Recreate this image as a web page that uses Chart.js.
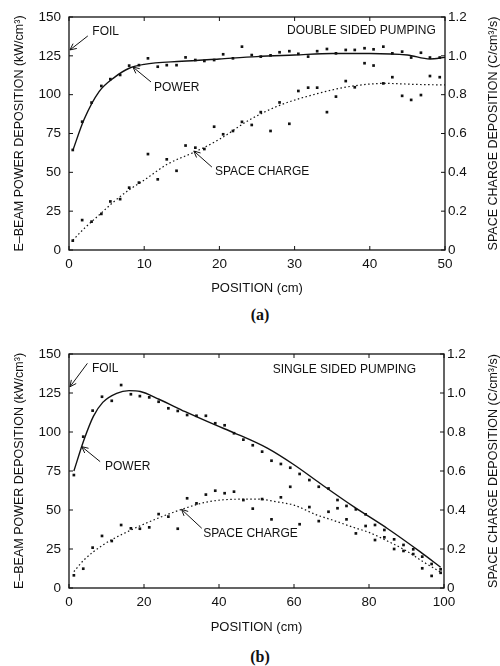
<!DOCTYPE html>
<html>
<head>
<meta charset="utf-8">
<script src="https://cdn.jsdelivr.net/npm/chart.js@4.4.0/dist/chart.umd.min.js"></script>
<style>
  html, body { margin: 0; padding: 0; background: #fff; width: 500px; height: 666px; overflow: hidden; }
  .box { position: absolute; left: 0; width: 505px; }
  #boxA { top: 0; height: 300px; }
  #boxB { top: 330px; height: 308px; }
  .tag { position: absolute; font: bold 16px "Liberation Serif", "Times New Roman", serif; color: #111; transform: translate(-50%, -50%); }
</style>
</head>
<body>
<div class="box" id="boxA"><canvas id="chartA" width="505" height="300"></canvas></div>
<div class="box" id="boxB"><canvas id="chartB" width="505" height="308"></canvas></div>
<div class="tag" style="left:260px; top:315px">(a)</div>
<div class="tag" style="left:260px; top:657px">(b)</div>
<script>
// (a) double sided pumping : measured points (cm, kW/cm3, C/cm3/s)
const posA = [0.5, 1.75, 3.0, 4.3, 5.5, 6.8, 8.0, 9.3, 10.5, 11.8,
  13.0, 14.3, 15.5, 16.8, 18.0, 19.3, 20.5, 21.8, 23.0, 24.3,
  25.5, 26.8, 28.0, 29.3, 30.5, 31.8, 33.0, 34.3, 35.5, 36.8,
  38.0, 39.3, 40.5, 41.8, 43.0, 44.3, 45.5, 46.8, 48.0, 49.3];
const powerA = [64.4, 82.6, 94.9, 105.6, 110, 112.7, 118.7, 119, 123.4, 118,
  119, 119, 124, 122.3, 121.7, 122.3, 126, 123.4, 130.9, 125.5,
  124.5, 125.3, 127.3, 128, 126.3, 124.5, 128, 129.4, 126.6, 128.8,
  128.8, 129.9, 129.2, 130.9, 126.6, 127.7, 123.9, 127, 123.9, 123.9];
const chargeA = [0.048, 0.154, 0.146, 0.186, 0.25, 0.262, 0.321, 0.347, 0.494, 0.364,
  0.467, 0.408, 0.538, 0.527, 0.52, 0.635, 0.596, 0.613, 0.66, 0.644,
  0.71, 0.613, 0.76, 0.65, 0.819, 0.836, 0.836, 0.71, 0.79, 0.87,
  0.838, 0.962, 0.95, 0.858, 0.89, 0.794, 0.773, 0.798, 0.896, 0.89];
// (a) fitted curves
const powerFitPosA = [0.5, 2, 4, 6, 8, 10, 15, 20, 25, 30, 35, 40, 45, 48, 50];
const powerFitA = [64, 84, 102, 111, 117, 119.5, 121.5, 123, 124.5, 125.5, 126.5, 126.5, 125.5, 123, 124];
const chargeFitPosA = [0.5, 2, 4, 6, 8, 10, 13, 17, 20, 24, 28, 33, 37, 42, 46, 50];
const chargeFitA = [0.05, 0.11, 0.18, 0.25, 0.31, 0.36, 0.44, 0.51, 0.57, 0.67, 0.745, 0.805, 0.84, 0.858, 0.853, 0.85];

// (b) single sided pumping : measured points
const posB = [1.3, 3.8, 6.3, 8.8, 11.4, 13.9, 16.5, 18.9, 21.4, 23.9,
  26.5, 29, 31.5, 34, 36.5, 39, 41.5, 44, 46.5, 49,
  51.5, 54, 56.5, 59, 61.5, 64.1, 66.6, 69.2, 71.6, 74,
  76.5, 79.1, 81.6, 84.1, 86.7, 89.2, 91.8, 94.2, 96.7, 99.1];
const powerB = [72.4, 97, 113.7, 122.6, 120, 130.1, 124.2, 123, 122.2, 119.4,
  115.2, 113.5, 110.9, 110.4, 110.4, 105.6, 104.3, 99.2, 95.1, 91.5,
  87.4, 81.6, 79.5, 77.1, 73.1, 69.2, 64.9, 63.8, 56.4, 52.6,
  50.4, 47.2, 40.4, 37.2, 31.2, 27.6, 24.8, 20.1, 15.4, 12];
const chargeB = [0.065, 0.099, 0.207, 0.267, 0.241, 0.323, 0.306, 0.304, 0.311, 0.379,
  0.366, 0.304, 0.46, 0.434, 0.479, 0.499, 0.486, 0.494, 0.451, 0.407,
  0.456, 0.352, 0.465, 0.519, 0.327, 0.415, 0.343, 0.391, 0.409, 0.352,
  0.28, 0.318, 0.246, 0.26, 0.2, 0.19, 0.174, 0.101, 0.062, 0.078];
// (b) fitted curves
const powerFitPosB = [1.3, 4, 6.5, 9, 12.7, 16, 19, 24, 31, 39, 44, 53, 60, 67, 76, 85, 93.6, 99.1];
const powerFitB = [75, 95, 110, 119, 124.8, 126.5, 126, 121, 113, 104.5, 99.5, 89.5, 79, 67, 52, 38, 23.3, 13.3];
const chargeFitPosB = [1.3, 4, 9, 16.5, 24, 30, 37, 44, 50, 56, 60, 66, 70, 76, 80, 85, 90, 94, 99.2];
const chargeFitB = [0.084, 0.144, 0.22, 0.297, 0.36, 0.403, 0.442, 0.455, 0.456, 0.44, 0.425, 0.375, 0.35, 0.31, 0.285, 0.24, 0.19, 0.14, 0.08];

const INK = '#111';
const FONT = '"Liberation Sans", Arial, sans-serif';

function pts(xs, ys) {
  return xs.map((x, i) => ({ x: x, y: ys[i] }));
}

// frame, inward ticks, right title and the hand labels of the figure
const figurePlugin = {
  id: 'figure',
  afterDraw(chart, args, opts) {
    const { ctx, chartArea: a, scales } = chart;
    const line = (x1, y1, x2, y2) => { ctx.beginPath(); ctx.moveTo(x1, y1); ctx.lineTo(x2, y2); ctx.stroke(); };
    ctx.save();
    ctx.strokeStyle = INK;
    ctx.fillStyle = INK;
    ctx.lineWidth = 1.3;
    ctx.strokeRect(a.left, a.top, a.right - a.left, a.bottom - a.top);
    ctx.lineWidth = 1;
    scales.x.ticks.forEach(t => {
      const p = scales.x.getPixelForValue(t.value);
      line(p, a.bottom, p, a.bottom - 4);
      line(p, a.top, p, a.top + 4);
    });
    scales.y.ticks.forEach(t => {
      const p = scales.y.getPixelForValue(t.value);
      line(a.left, p, a.left + 4, p);
    });
    scales.y1.ticks.forEach(t => {
      const p = scales.y1.getPixelForValue(t.value);
      line(a.right - 4, p, a.right, p);
    });

    // right axis title, reading upward like the left one
    ctx.font = '12.5px ' + FONT;
    ctx.textAlign = 'center';
    ctx.textBaseline = 'middle';
    ctx.save();
    ctx.translate(494, (a.top + a.bottom) / 2);
    ctx.rotate(-Math.PI / 2);
    ctx.fillText('SPACE CHARGE DEPOSITION (C/cm³/s)', 0, 0);
    ctx.restore();

    const px = v => scales.x.getPixelForValue(v);
    const py = v => scales.y.getPixelForValue(v);
    ctx.font = '12px ' + FONT;
    ctx.textAlign = 'left';
    opts.notes.forEach(n => {
      ctx.fillText(n.text, px(n.x), py(n.y));
      if (n.from) {
        const x1 = px(n.from[0]), y1 = py(n.from[1]);
        const x2 = px(n.to[0]), y2 = py(n.to[1]);
        line(x1, y1, x2, y2);
        const ang = Math.atan2(y1 - y2, x1 - x2);
        [0.45, -0.45].forEach(d => {
          line(x2, y2, x2 + 7 * Math.cos(ang + d), y2 + 7 * Math.sin(ang + d));
        });
      }
    });
    ctx.restore();
  }
};

function makeChart(id, cfg) {
  const datasets = [
    {
      label: 'power fit',
      data: pts(cfg.powerFitPos, cfg.powerFit),
      yAxisID: 'y',
      showLine: true,
      pointRadius: 0,
      borderColor: INK,
      borderWidth: 1.4,
      cubicInterpolationMode: 'monotone',
    },
    {
      label: 'space charge fit',
      data: pts(cfg.chargeFitPos, cfg.chargeFit),
      yAxisID: 'y1',
      showLine: true,
      pointRadius: 0,
      borderColor: INK,
      borderWidth: 1.2,
      borderDash: [1.5, 2.5],
      cubicInterpolationMode: 'monotone',
    },
    {
      label: 'power',
      data: pts(cfg.pos, cfg.power),
      yAxisID: 'y',
      pointStyle: 'rect',
      pointRadius: 1.9,
      backgroundColor: INK,
      borderWidth: 0,
    },
    {
      label: 'space charge',
      data: pts(cfg.pos, cfg.charge),
      yAxisID: 'y1',
      pointStyle: 'rect',
      pointRadius: 1.9,
      backgroundColor: INK,
      borderWidth: 0,
    },
  ];
  const tickFont = { family: FONT, size: 13.5 };
  const config = {
    responsive: false,
    animation: false,
    layout: { padding: { top: cfg.padTop, left: 0, right: 0, bottom: 0 } },
    scales: {
      x: {
        type: 'linear',
        min: 0,
        max: cfg.xMax,
        afterFit: s => { s.height = 50; },
        grid: { display: false, drawTicks: false },
        border: { display: false },
        ticks: { stepSize: cfg.xStep, color: INK, font: tickFont, padding: 6, maxRotation: 0 },
        title: { display: true, text: 'POSITION (cm)', color: INK, font: { family: FONT, size: 13 }, padding: { top: 0, bottom: cfg.xTitlePad } },
      },
      y: {
        position: 'left',
        min: 0,
        max: 150,
        afterFit: s => { s.width = 69; },
        grid: { display: false, drawTicks: false },
        border: { display: false },
        ticks: { stepSize: 25, color: INK, font: tickFont, padding: 8 },
        title: { display: true, text: 'E–BEAM POWER DEPOSITION (kW/cm³)', color: INK, font: { family: FONT, size: 12.5 }, padding: { top: 12, bottom: 0 } },
      },
      y1: {
        position: 'right',
        min: 0,
        max: 1.2,
        afterFit: s => { s.width = cfg.rightWidth; },
        grid: { display: false, drawTicks: false },
        border: { display: false },
        ticks: {
          stepSize: 0.2,
          color: INK,
          font: tickFont,
          padding: 3,
          callback: v => (Math.abs(v) < 1e-9 ? '0' : v.toFixed(1)),
        },
      },
    },
    plugins: {
      legend: { display: false },
      tooltip: { enabled: false },
      figure: { notes: cfg.notes },
    },
  };
  const ctx = document.getElementById(id).getContext('2d');
  return new Chart(ctx, {
    type: 'scatter',
    data: { datasets },
    options: config,
    plugins: [figurePlugin],
  });
}

makeChart('chartA', {
  pos: posA, power: powerA, charge: chargeA,
  powerFitPos: powerFitPosA, powerFit: powerFitA,
  chargeFitPos: chargeFitPosA, chargeFit: chargeFitA,
  xMax: 50, xStep: 10, padTop: 17, rightWidth: 60, xTitlePad: 4,
  notes: [
    { text: 'FOIL', x: 3.1, y: 140.4, from: [2.5, 137.8], to: [0.13, 128.8] },
    { text: 'POWER', x: 11.3, y: 104.3, from: [10.9, 108.2], to: [8.5, 117.8] },
    { text: 'SPACE CHARGE', x: 19.4, y: 50.2, from: [19, 53.4], to: [16.6, 63.7] },
    { text: 'DOUBLE SIDED PUMPING', x: 29, y: 141 },
  ],
});

makeChart('chartB', {
  pos: posB, power: powerB, charge: chargeB,
  powerFitPos: powerFitPosB, powerFit: powerFitB,
  chargeFitPos: chargeFitPosB, chargeFit: chargeFitB,
  xMax: 100, xStep: 20, padTop: 24, rightWidth: 61, xTitlePad: 3,
  notes: [
    { text: 'FOIL', x: 6.1, y: 140.4, from: [4.9, 144], to: [0.27, 129] },
    { text: 'POWER', x: 9.6, y: 77.8, from: [8.3, 81], to: [3.4, 90.6] },
    { text: 'SPACE CHARGE', x: 35.8, y: 35, from: [35.4, 38.3], to: [30, 50.4] },
    { text: 'SINGLE SIDED PUMPING', x: 54.3, y: 140.2 },
  ],
});
</script>
</body>
</html>
